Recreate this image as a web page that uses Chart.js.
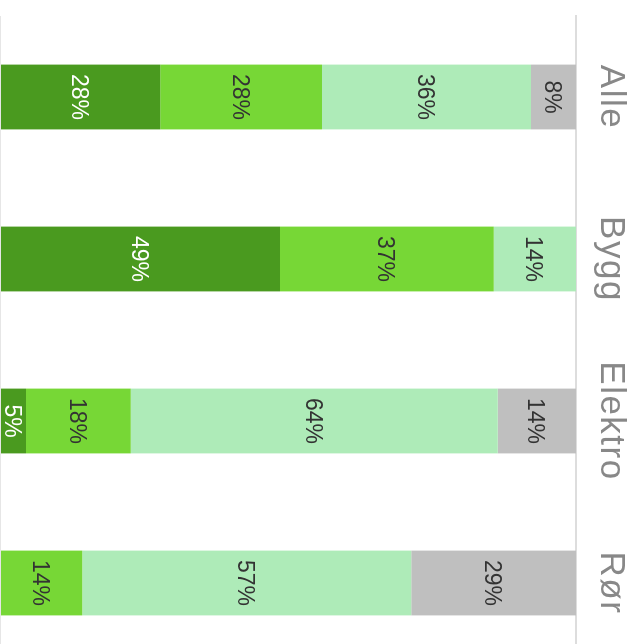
<!DOCTYPE html>
<html>
<head>
<meta charset="utf-8">
<script src="https://cdn.jsdelivr.net/npm/chart.js@4/dist/chart.umd.min.js"></script>
<style>
  html, body { margin: 0; padding: 0; width: 636px; height: 644px; overflow: hidden; background: #fff; }
  #wrap { position: absolute; left: 0; top: 0; width: 664px; height: 660px;
          transform-origin: 0 0; transform: translate(645px, 0) rotate(90deg); }
</style>
</head>
<body>
<div id="wrap"><canvas id="c" width="664" height="660"></canvas></div>
<script>
const categories = ['Alle', 'Bygg', 'Elektro', 'Rør'];
const seriesNames = ['Kategori 1', 'Kategori 2', 'Kategori 3', 'Kategori 4'];
const s1 = [27.8, 48.6, 4.5, 0];
const s2 = [28.1, 37.1, 18.2, 14.3];
const s3 = [36.3, 14.3, 63.7, 57.1];
const s4 = [7.8, 0, 13.6, 28.6];
const colors = ['#4a9a1f', '#77d736', '#aeebb8', '#bfbfbf'];
const labelColors = ['#ffffff', '#333333', '#333333', '#333333'];
const FONT = '"Liberation Sans", Arial, Helvetica, sans-serif';

const spacing = {
  id: 'spacing',
  beforeDraw(chart) { chart.ctx.letterSpacing = '1.5px'; }
};

const valueLabels = {
  id: 'valueLabels',
  afterDatasetsDraw(chart) {
    const ctx = chart.ctx;
    ctx.save();
    ctx.letterSpacing = '0px';
    ctx.font = '23px ' + FONT;
    ctx.textAlign = 'center';
    ctx.textBaseline = 'middle';
    chart.data.datasets.forEach((ds, i) => {
      const meta = chart.getDatasetMeta(i);
      meta.data.forEach((bar, j) => {
        const v = ds.data[j];
        if (!v) return;
        ctx.fillStyle = labelColors[i];
        ctx.fillText(Math.round(v) + '%', bar.x, (bar.y + bar.base) / 2 + 2);
      });
    });
    ctx.restore();
  }
};

new Chart(document.getElementById('c'), {
  type: 'bar',
  data: {
    labels: categories,
    datasets: [s1, s2, s3, s4].map((d, i) => ({
      label: seriesNames[i],
      data: d,
      backgroundColor: colors[i],
      borderWidth: 0,
      barPercentage: 0.4,
      categoryPercentage: 1.0
    }))
  },
  options: {
    responsive: false,
    animation: false,
    devicePixelRatio: 1,
    layout: { padding: { left: 16, top: 0, right: 0, bottom: 15 } },
    plugins: { legend: { display: false }, tooltip: { enabled: false } },
    scales: {
      x: {
        stacked: true,
        position: 'top',
        grid: { display: false, drawTicks: false },
        border: { display: true, color: '#dddddd', width: 2 },
        ticks: { color: '#888888', padding: 17, font: { family: FONT, size: 35, lineHeight: 1.0 } }
      },
      y: {
        stacked: true,
        min: 0, max: 100,
        ticks: { display: false },
        border: { display: false },
        grid: { drawTicks: false, lineWidth: 2,
                color: (c) => (c.tick && c.tick.value === 0 ? '#e6e6e6' : 'rgba(0,0,0,0)') }
      }
    }
  },
  plugins: [spacing, valueLabels]
});
</script>
</body>
</html>
